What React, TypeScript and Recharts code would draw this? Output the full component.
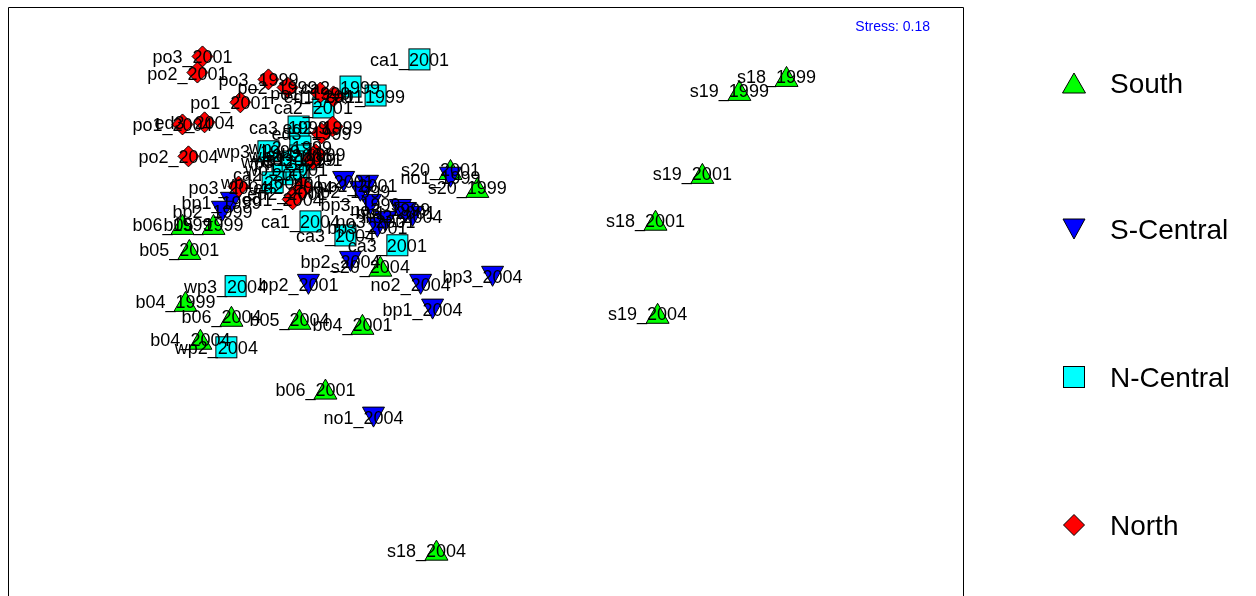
import React from "react"
import { ScatterChart, Scatter, XAxis, YAxis, ReferenceArea } from "recharts"

// NMDS site scores
const groups = ["South", "S-Central", "N-Central", "North"]
const groupColors = ["#00ff00", "#0000ff", "#00ffff", "#ff0000"]

const south = [
  { site: "s18_1999", x: 1.607, y: 0.569 },
  { site: "s19_1999", x: 1.449, y: 0.522 },
  { site: "s19_2001", x: 1.325, y: 0.244 },
  { site: "s18_2001", x: 1.168, y: 0.087 },
  { site: "s19_2004", x: 1.175, y: -0.225 },
  { site: "s18_2004", x: 0.434, y: -1.019 },
  { site: "s20_2001", x: 0.481, y: 0.257 },
  { site: "s20_1999", x: 0.571, y: 0.197 },
  { site: "s20_2004", x: 0.246, y: -0.067 },
  { site: "b04_1999", x: -0.407, y: -0.185 },
  { site: "b04_2001", x: 0.186, y: -0.262 },
  { site: "b04_2004", x: -0.357, y: -0.312 },
  { site: "b05_1999", x: -0.313, y: 0.073 },
  { site: "b05_2001", x: -0.394, y: -0.011 },
  { site: "b05_2004", x: -0.025, y: -0.245 },
  { site: "b06_1999", x: -0.417, y: 0.073 },
  { site: "b06_2001", x: 0.062, y: -0.479 },
  { site: "b06_2004", x: -0.253, y: -0.235 },
]

const nCentral = [
  { site: "ca1_2001", x: 0.377, y: 0.626 },
  { site: "ca2_1999", x: 0.146, y: 0.535 },
  { site: "ca1_1999", x: 0.23, y: 0.505 },
  { site: "ca2_2001", x: 0.055, y: 0.465 },
  { site: "ca3_1999", x: -0.028, y: 0.401 },
  { site: "wp3_1999", x: -0.129, y: 0.318 },
  { site: "wp2_1999", x: -0.022, y: 0.334 },
  { site: "wp1_1999", x: -0.008, y: 0.291 },
  { site: "ca2_2004", x: -0.082, y: 0.241 },
  { site: "wp1_2001", x: -0.035, y: 0.257 },
  { site: "wp2_2001", x: -0.022, y: 0.304 },
  { site: "wp3_2001", x: -0.048, y: 0.284 },
  { site: "wp1_2004", x: -0.115, y: 0.214 },
  { site: "ca1_2004", x: 0.012, y: 0.083 },
  { site: "ca3_2004", x: 0.129, y: 0.036 },
  { site: "ca3_2001", x: 0.303, y: 0.003 },
  { site: "wp3_2004", x: -0.239, y: -0.134 },
  { site: "wp2_2004", x: -0.27, y: -0.339 },
]

const sCentral = [
  { site: "bp1_1999", x: -0.253, y: 0.147 },
  { site: "bp2_1999", x: -0.283, y: 0.117 },
  { site: "bp3_1999", x: 0.213, y: 0.14 },
  { site: "no1_1999", x: 0.481, y: 0.231 },
  { site: "no1_2001", x: 0.123, y: 0.217 },
  { site: "no2_2001", x: 0.203, y: 0.204 },
  { site: "no2_1999", x: 0.179, y: 0.184 },
  { site: "no3_1999", x: 0.313, y: 0.123 },
  { site: "no3_2004", x: 0.354, y: 0.1 },
  { site: "bp1_2001", x: 0.33, y: 0.113 },
  { site: "bp3_2001", x: 0.236, y: 0.063 },
  { site: "no3_2001", x: 0.263, y: 0.083 },
  { site: "bp2_2004", x: 0.146, y: -0.051 },
  { site: "bp2_2001", x: 0.005, y: -0.128 },
  { site: "no2_2004", x: 0.381, y: -0.128 },
  { site: "bp3_2004", x: 0.622, y: -0.101 },
  { site: "bp1_2004", x: 0.421, y: -0.211 },
  { site: "no1_2004", x: 0.223, y: -0.573 },
]

const north = [
  { site: "po3_2001", x: -0.35, y: 0.636 },
  { site: "po2_2001", x: -0.367, y: 0.582 },
  { site: "po3_1999", x: -0.129, y: 0.559 },
  { site: "po2_1999", x: -0.065, y: 0.532 },
  { site: "po1_2001", x: -0.223, y: 0.482 },
  { site: "po1_1999", x: 0.045, y: 0.515 },
  { site: "ed1_2001", x: 0.089, y: 0.502 },
  { site: "po1_2004", x: -0.417, y: 0.408 },
  { site: "ed3_2004", x: -0.343, y: 0.415 },
  { site: "po2_2004", x: -0.397, y: 0.301 },
  { site: "ed2_1999", x: 0.086, y: 0.401 },
  { site: "ed3_1999", x: 0.049, y: 0.378 },
  { site: "ed1_1999", x: 0.029, y: 0.308 },
  { site: "ed3_2001", x: 0.019, y: 0.291 },
  { site: "po3_2004", x: -0.229, y: 0.2 },
  { site: "ed2_2004", x: -0.012, y: 0.197 },
  { site: "ed2_2001", x: -0.032, y: 0.177 },
  { site: "ed1_2004", x: -0.048, y: 0.157 },
]

const stress = "Stress: 0.18"

const FONT = '"Liberation Sans", Arial, Helvetica, sans-serif'

const Marker = ({ kind, cx, cy, color }) => {
  const common = { fill: color, stroke: "#000", strokeWidth: 1 }
  if (kind === "up")
    return <polygon points={`${cx},${cy - 10} ${cx + 11.5},${cy + 10} ${cx - 11.5},${cy + 10}`} {...common} />
  if (kind === "down")
    return <polygon points={`${cx - 11},${cy - 10} ${cx + 11},${cy - 10} ${cx},${cy + 10}`} {...common} />
  if (kind === "square")
    return <rect x={cx - 10.5} y={cy - 10.5} width={21} height={21} {...common} />
  return <polygon points={`${cx},${cy - 10.5} ${cx + 10.5},${cy} ${cx},${cy + 10.5} ${cx - 10.5},${cy}`} {...common} />
}

const kinds = ["up", "down", "square", "diamond"]

const shapeFor = (i) => (props) => (
  <Marker kind={kinds[i]} cx={props.cx} cy={props.cy} color={groupColors[i]} />
)

const labelShape = (props) => (
  <text
    x={props.cx - 10}
    y={props.cy + 1}
    textAnchor="middle"
    dominantBaseline="central"
    fontSize={18}
    fontFamily={FONT}
    fill="#000"
  >
    {props.payload.site}
  </text>
)

const legendY = [75, 221, 369, 517]

const App = () => {
  const allSites = [...south, ...nCentral, ...sCentral, ...north]

  // fixed so the box can run off the bottom edge without a scrollbar
  return (
    <div style={{ position: "fixed", left: 8, top: 7, width: 1240, height: 589, overflow: "hidden" }}>
      <ScatterChart width={1240} height={627} margin={{ top: 0.5, right: 284.5, bottom: 0, left: 0.5 }}>
        <XAxis type="number" dataKey="x" domain={[-1, 2.2]} hide />
        <YAxis type="number" dataKey="y" domain={[-1.3, 0.8]} hide />
        <ReferenceArea x1={-1} x2={2.2} y1={-1.3} y2={0.8} fill="none" stroke="#000" strokeWidth={1} fillOpacity={0} />
        <Scatter data={south} shape={shapeFor(0)} isAnimationActive={false} />
        <Scatter data={nCentral} shape={shapeFor(2)} isAnimationActive={false} />
        <Scatter data={sCentral} shape={shapeFor(1)} isAnimationActive={false} />
        <Scatter data={north} shape={shapeFor(3)} isAnimationActive={false} />
        <Scatter data={allSites} shape={labelShape} isAnimationActive={false} />
      </ScatterChart>

      <div
        style={{
          position: "absolute",
          left: 822,
          width: 100,
          top: 11,
          textAlign: "right",
          fontFamily: '"Liberation Sans Narrow", "Liberation Sans", Arial, sans-serif',
          fontSize: 14,
          lineHeight: "16px",
          color: "#0000ff",
        }}
      >
        {stress}
      </div>

      {groups.map((g, i) => (
        <div key={g}>
          <svg
            width={30}
            height={30}
            style={{ position: "absolute", left: 1050.5, top: legendY[i] - 14 }}
          >
            <Marker kind={kinds[i]} cx={15} cy={15} color={groupColors[i]} />
          </svg>
          <div
            style={{
              position: "absolute",
              left: 1102,
              top: legendY[i] - 15,
              fontFamily: FONT,
              fontSize: 28,
              lineHeight: "34px",
              color: "#000",
              whiteSpace: "nowrap",
            }}
          >
            {g}
          </div>
        </div>
      ))}
    </div>
  )
}

export default App
